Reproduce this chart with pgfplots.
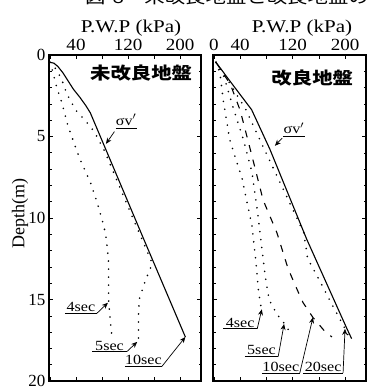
\documentclass[border=0pt]{standalone}
\usepackage{pgfplots}
\pgfplotsset{compat=1.18}
\usepackage{fontspec}
\setmainfont{Liberation Serif}
\newfontfamily\cjk{Noto Sans CJK JP}
\usetikzlibrary{arrows.meta}
\tikzset{
  dotc/.style={line width=1.8pt, dash pattern=on 0pt off 8pt, line cap=round},
  dashc/.style={line width=1.1pt, dash pattern=on 7pt off 8pt},
  solc/.style={line width=1.1pt},
  ann/.style={line width=0.7pt},
  annarr/.style={line width=0.7pt, -{Stealth[length=6pt,width=5pt]}},
  lab/.style={font=\fontsize{14}{14}\selectfont, xscale=1.15, anchor=base, inner sep=0pt},
}
\pgfplotsset{
  panel/.style={
    scale only axis, width=152pt, height=326pt,
    xmin=-1.5, xmax=232, ymin=0, ymax=20, y dir=reverse,
    xtick={0,40,80,120,160,200}, ytick={0,5,10,15,20},
    minor y tick num=4,
    tick align=inside, xticklabel pos=upper,
    major tick length=4pt, minor tick length=2.5pt,
    axis line style={line width=1.1pt},
    every tick/.style={black, line width=0.6pt},
    tick label style={font=\fontsize{17}{17}\selectfont},
    xticklabel style={yshift=1pt, xscale=1.12},
    /pgf/number format/assume math mode=true,
    clip=false,
  }
}
\begin{document}
\begin{tikzpicture}[x=1pt,y=1pt]
\useasboundingbox (0,0) rectangle (368,387);
% Left panel
\begin{axis}[panel, at={(49pt,6pt)}, anchor=south west,
  xticklabels={,40,,120,,200}]
\addplot[solc] coordinates {(0,0.45) (6,0.5) (12,0.7) (20,1.1) (28,1.6) (36,2.1) (46,2.6) (55,3.1) (62,3.55) (143,11.2) (208,17.3)};
\addplot[dotc] coordinates {(0,0.45) (4,1.0) (8,1.65) (13,2.3) (18,2.9) (28,4.4) (37,5.4) (46,6.4) (62,7.8) (72,9.0) (80,10.1) (85,10.9) (88,11.8) (90,12.7) (90,14) (90,15) (92,16) (95,17.2)};
\addplot[dotc] coordinates {(0,0.45) (10,0.9) (18,1.5) (26,2.4) (40,3.4) (58,4.2) (68,4.7) (84,5.9) (123,9.6) (152,12.3) (157,12.8) (146,13.9) (137,15) (136,16) (136,17.4)};
% annotations
\node[font=\cjk\bfseries\fontsize{17}{17}\selectfont, xscale=1.2] at (axis cs:140,1.1) {未改良地盤};
\node[lab] at (axis cs:117,4.3) {σv$'$};
\draw[ann] (axis cs:101,4.5) -- (axis cs:134,4.5);
\draw[annarr] (axis cs:99,4.7) -- (axis cs:86,5.45);
\node[lab] at (axis cs:47.5,15.75) {4sec};
\draw[ann] (axis cs:23,15.85) -- (axis cs:72,15.85);
\draw[annarr] (axis cs:72,15.85) -- (axis cs:89,15.2);
\node[lab] at (axis cs:91.5,18.1) {5sec};
\draw[ann] (axis cs:65,18.2) -- (axis cs:118,18.2);
\draw[annarr] (axis cs:118,18.2) -- (axis cs:134,17.6);
\node[lab] at (axis cs:143.5,19.0) {10sec};
\draw[ann] (axis cs:115,19.1) -- (axis cs:172,19.1);
\draw[annarr] (axis cs:172,19.1) -- (axis cs:208,17.3);
\end{axis}
% Right panel
\begin{axis}[panel, at={(213pt,6pt)}, anchor=south west, width=153pt,
  xticklabels={0,40,,120,,200}, yticklabels={}]
\addplot[solc] coordinates {(3,0.45) (30,1.9) (57.5,3.36) (85.5,5.8) (141.5,11.3) (203,16.8) (210,17.4)};
\addplot[dotc] coordinates {(3,0.45) (9,1.1) (14,2.75) (24,5.2) (43,7.6) (58,10.5) (64,12.7) (68,14.5) (72,15.5) (74,15.8)};
\addplot[dotc] coordinates {(3,0.45) (15,1.3) (29,3.2) (45,5.2) (58,7.2) (66,9.5) (72,11.5) (78,13.5) (84,15) (96,15.9) (108,16.5) (119,17.2)};
\addplot[dashc] coordinates {(3,0.45) (25,1.8) (40,3.4) (58,6.2) (75,8.9) (96,10.9) (113,13.1) (127,14.4) (136,15.2) (151,16.1) (168,16.9) (180,17.3)};
\addplot[dotc] coordinates {(3,0.45) (22,1.6) (48,3.3) (77,5.8) (137,10.9) (143,12.5) (158,13.6) (180,15.3) (200,16.8) (206,17.3)};
\node[font=\cjk\bfseries\fontsize{17}{17}\selectfont, xscale=1.2] at (axis cs:150,1.4) {改良地盤};
\node[lab] at (axis cs:122,4.8) {σv$'$};
\draw[ann] (axis cs:105,5.0) -- (axis cs:139,5.0);
\draw[annarr] (axis cs:104,5.1) -- (axis cs:93,5.57);
\node[lab] at (axis cs:40,16.7) {4sec};
\draw[ann] (axis cs:14,16.8) -- (axis cs:66,16.8);
\draw[annarr] (axis cs:66,16.8) -- (axis cs:73,15.6);
\node[lab] at (axis cs:72.5,18.4) {5sec};
\draw[ann] (axis cs:47,18.5) -- (axis cs:98,18.5);
\draw[annarr] (axis cs:98,18.5) -- (axis cs:107,16.5);
\node[lab] at (axis cs:102,19.4) {10sec};
\draw[ann] (axis cs:73,19.5) -- (axis cs:131,19.5);
\draw[annarr] (axis cs:131,19.5) -- (axis cs:151,16.1);
\node[lab] at (axis cs:166.5,19.4) {20sec};
\draw[ann] (axis cs:136,19.5) -- (axis cs:197,19.5);
\draw[annarr] (axis cs:197,19.5) -- (axis cs:200,16.8);
\end{axis}
% titles and labels
\node[font=\fontsize{18}{18}\selectfont, xscale=1.17] at (131,359) {P.W.P (kPa)};
\node[font=\fontsize{18}{18}\selectfont, xscale=1.17] at (302,359) {P.W.P (kPa)};
\node[font=\fontsize{18}{18}\selectfont, rotate=90] at (20,173) {Depth(m)};
\node[font=\cjk\fontsize{17}{17}\selectfont, xscale=1.2, anchor=west, inner sep=0pt] at (85,390) {図-8　未改良地盤と改良地盤の過剰間隙水圧};
\end{tikzpicture}
\end{document}
